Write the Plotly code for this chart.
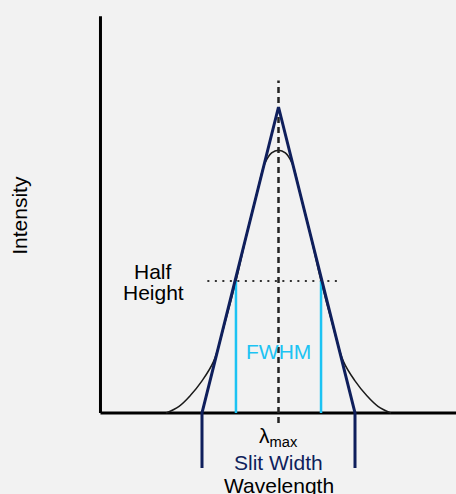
import plotly.graph_objects as go

# Units: wavelength offset from lambda_max in half slit widths,
# intensity relative to the peak of the triangular slit function.

# Triangular slit function (extended below the baseline to mark the slit width)
slit_x = [-1.0, -1.0, 0.0, 1.0, 1.0]
slit_y = [-0.18, 0.0, 1.0, 0.0, -0.18]

# Observed band profile
band_x = [-1.47, -1.30, -1.15, -1.00, -0.85, -0.70, -0.556, -0.40, -0.28, -0.18, -0.09, 0.0,
          0.09, 0.18, 0.28, 0.40, 0.556, 0.70, 0.85, 1.00, 1.15, 1.30, 1.47]
band_y = [0.0, 0.022, 0.058, 0.105, 0.168, 0.295, 0.431, 0.60, 0.72, 0.815, 0.850, 0.859,
          0.850, 0.815, 0.72, 0.60, 0.431, 0.295, 0.168, 0.105, 0.058, 0.022, 0.0]

lambda_max = 0.0
half_height = 0.431
half_height_span = [-0.93, 0.83]
fwhm_x = [-0.556, 0.556]
center_span = [-0.033, 1.087]

axis_x = [-2.327, 2.33]
axis_top = 1.297

NAVY = "#0f1f5c"
CYAN = "#1cc3f3"
BG = "#f2f2f2"
FONT = "Liberation Sans, Arial, sans-serif"

fig = go.Figure()

# Axes
fig.add_trace(go.Scatter(x=[axis_x[0], axis_x[0]], y=[axis_top, 0], mode="lines",
                         line=dict(color="black", width=3), hoverinfo="skip"))
fig.add_trace(go.Scatter(x=axis_x, y=[0, 0], mode="lines",
                         line=dict(color="black", width=3), hoverinfo="skip"))

# Band profile
fig.add_trace(go.Scatter(x=band_x, y=band_y, mode="lines", line_shape="spline",
                         line=dict(color="#1a1a1a", width=1.5), hoverinfo="skip"))

# Half-height marker
fig.add_trace(go.Scatter(x=half_height_span, y=[half_height, half_height], mode="lines",
                         line=dict(color="#333333", width=2, dash="2px,5.5px"), hoverinfo="skip"))

# FWHM markers
for fx in fwhm_x:
    fig.add_trace(go.Scatter(x=[fx, fx], y=[0, half_height], mode="lines",
                             line=dict(color=CYAN, width=2.5), hoverinfo="skip"))

# lambda_max line
fig.add_trace(go.Scatter(x=[lambda_max, lambda_max], y=center_span, mode="lines",
                         line=dict(color="#222222", width=2.5, dash="6px,4px"), hoverinfo="skip"))

# Slit function
fig.add_trace(go.Scatter(x=slit_x, y=slit_y, mode="lines",
                         line=dict(color=NAVY, width=3), hoverinfo="skip"))

def label(text, x, y, color="black", **kw):
    fig.add_annotation(x=x, y=y, xref="x", yref="y", text=text, showarrow=False,
                       font=dict(family=FONT, size=21, color=color), **kw)

label("FWHM", 0.0, 0.20, color=CYAN)
label("Half", -1.64, 0.464)
label("Height", -1.64, 0.394)
label("λ<sub>max</sub>", lambda_max, -0.079)
label("Slit Width", 0.0, -0.162, color=NAVY)
label("Wavelength", 0.0, -0.238)
label("Intensity", -3.39, 0.645, textangle=-90)

fig.update_layout(
    width=456, height=494,
    margin=dict(l=0, r=0, t=0, b=0),
    paper_bgcolor=BG, plot_bgcolor=BG,
    showlegend=False,
    xaxis=dict(range=[-3.6405, 2.3203], visible=False, fixedrange=True),
    yaxis=dict(range=[-0.2647, 1.3497], visible=False, fixedrange=True),
)

fig.write_html("out.html")
